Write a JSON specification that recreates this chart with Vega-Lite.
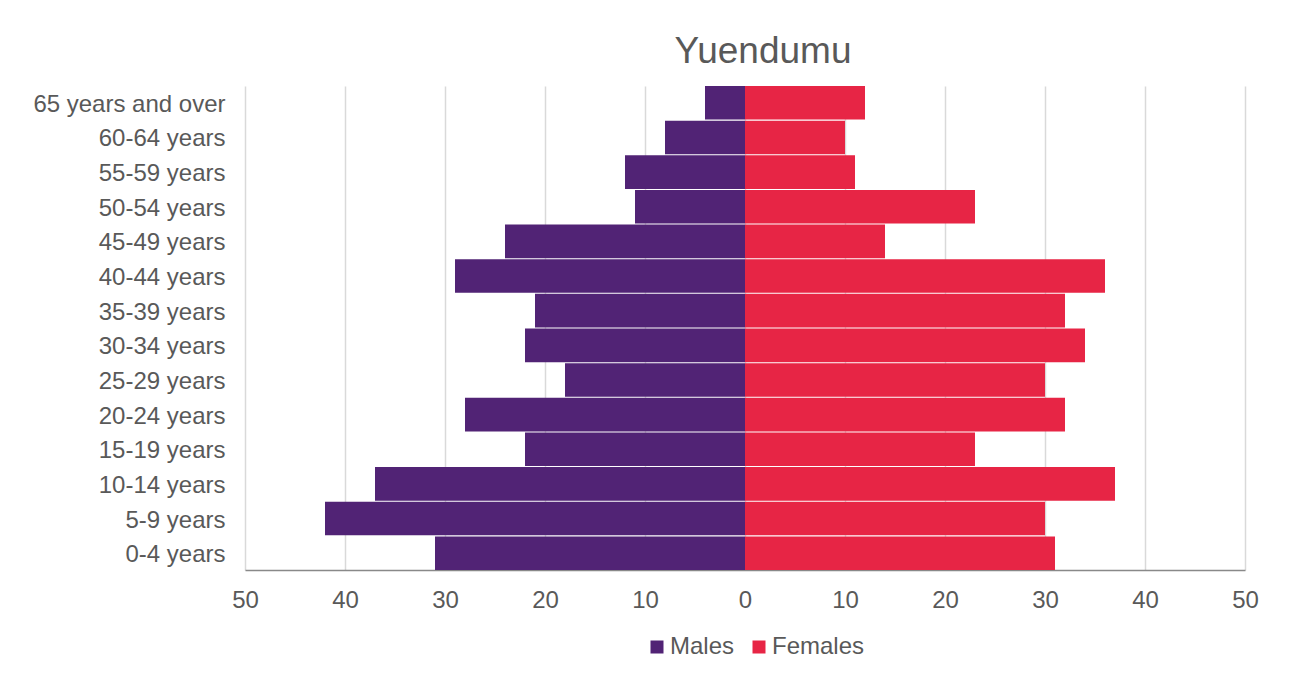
{
  "$schema": "https://vega.github.io/schema/vega-lite/v6.json",
  "width": 1000,
  "height": 484,
  "autosize": {"type": "none"},
  "padding": {"left": 245, "top": 86, "right": 47, "bottom": 114},
  "background": "white",
  "title": {
    "text": "Yuendumu",
    "fontSize": 37,
    "font": "Liberation Sans",
    "fontWeight": "normal",
    "color": "#595959",
    "anchor": "middle",
    "dx": 18,
    "baseline": "alphabetic",
    "offset": 23,
    "dy": 37
  },
  "data": {
    "values": [
      {"age": "65 years and over", "sex": "Males", "value": -4},
      {"age": "60-64 years", "sex": "Males", "value": -8},
      {"age": "55-59 years", "sex": "Males", "value": -12},
      {"age": "50-54 years", "sex": "Males", "value": -11},
      {"age": "45-49 years", "sex": "Males", "value": -24},
      {"age": "40-44 years\u2004", "sex": "Males", "value": -29},
      {"age": "35-39 years", "sex": "Males", "value": -21},
      {"age": "30-34 years", "sex": "Males", "value": -22},
      {"age": "25-29 years", "sex": "Males", "value": -18},
      {"age": "20-24 years", "sex": "Males", "value": -28},
      {"age": "15-19 years", "sex": "Males", "value": -22},
      {"age": "10-14 years\u2004", "sex": "Males", "value": -37},
      {"age": "5-9 years", "sex": "Males", "value": -42},
      {"age": "0-4 years", "sex": "Males", "value": -31},
      {"age": "65 years and over", "sex": "Females", "value": 12},
      {"age": "60-64 years", "sex": "Females", "value": 10},
      {"age": "55-59 years", "sex": "Females", "value": 11},
      {"age": "50-54 years", "sex": "Females", "value": 23},
      {"age": "45-49 years", "sex": "Females", "value": 14},
      {"age": "40-44 years\u2004", "sex": "Females", "value": 36},
      {"age": "35-39 years", "sex": "Females", "value": 32},
      {"age": "30-34 years", "sex": "Females", "value": 34},
      {"age": "25-29 years", "sex": "Females", "value": 30},
      {"age": "20-24 years", "sex": "Females", "value": 32},
      {"age": "15-19 years", "sex": "Females", "value": 23},
      {"age": "10-14 years\u2004", "sex": "Females", "value": 37},
      {"age": "5-9 years", "sex": "Females", "value": 30},
      {"age": "0-4 years", "sex": "Females", "value": 31}
    ]
  },
  "mark": {"type": "bar"},
  "encoding": {
    "y": {
      "field": "age",
      "type": "nominal",
      "sort": ["65 years and over", "60-64 years", "55-59 years", "50-54 years", "45-49 years", "40-44 years\u2004", "35-39 years", "30-34 years", "25-29 years", "20-24 years", "15-19 years", "10-14 years\u2004", "5-9 years", "0-4 years"],
      "scale": {"paddingInner": 0.03, "paddingOuter": 0},
      "axis": {
        "title": null,
        "domain": false,
        "ticks": false,
        "labelPadding": 20,
        "labelFontSize": 24,
        "labelFont": "Liberation Sans",
        "labelColor": "#595959",
        "labelLimit": 400,
        "labelOffset": 2
      }
    },
    "x": {
      "field": "value",
      "type": "quantitative",
      "scale": {"domain": [-50, 50], "nice": false},
      "axis": {
        "title": null,
        "values": [-50, -40, -30, -20, -10, 0, 10, 20, 30, 40, 50],
        "labelExpr": "abs(datum.value)",
        "ticks": false,
        "domainColor": "#898989",
        "domainWidth": 1.5,
        "gridColor": "#d9d9d9",
        "gridWidth": 1.5,
        "labelPadding": 18,
        "labelFontSize": 24,
        "labelFont": "Liberation Sans",
        "labelColor": "#595959",
        "labelFlush": false
      }
    },
    "color": {
      "field": "sex",
      "type": "nominal",
      "scale": {"domain": ["Males", "Females"], "range": ["#512375", "#E72545"]},
      "legend": {
        "title": null,
        "orient": "none",
        "legendX": 400,
        "legendY": 549,
        "direction": "horizontal",
        "symbolType": "square",
        "symbolSize": 169,
        "symbolStrokeWidth": 0,
        "labelFontSize": 24,
        "labelFont": "Liberation Sans",
        "labelColor": "#595959",
        "labelOffset": 1,
        "columnPadding": 12
      }
    }
  },
  "config": {
    "view": {"stroke": null}
  }
}
